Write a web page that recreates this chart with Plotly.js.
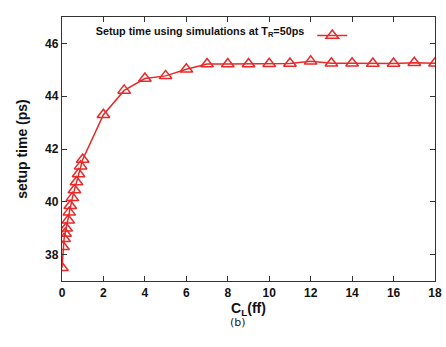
<!DOCTYPE html>
<html><head><meta charset="utf-8">
<script src="https://cdn.plot.ly/plotly-3.0.1.min.js"></script>
<style>html,body{margin:0;padding:0;background:#fff}#c{width:446px;height:347px}</style>
</head><body><div id="c"></div>
<script>
const capLoad = [0, 0.05, 0.1, 0.15, 0.2, 0.3, 0.35, 0.4, 0.5, 0.6, 0.7, 0.8, 0.9, 1, 2, 3, 4, 5, 6, 7, 8, 9, 10, 11, 12, 13, 14, 15, 16, 17, 18];
const setupTime = [37.5, 38.3, 38.6, 38.8, 39.0, 39.3, 39.6, 39.85, 40.15, 40.45, 40.75, 41.05, 41.35, 41.6, 43.3, 44.22, 44.67, 44.77, 45.02, 45.22, 45.22, 45.22, 45.23, 45.24, 45.32, 45.25, 45.25, 45.24, 45.24, 45.27, 45.25];
const xTicks = [0, 2, 4, 6, 8, 10, 12, 14, 16, 18];
const yTicks = [38, 40, 42, 44, 46];
const legendLabel = 'Setup time using simulations at T<sub>R</sub>=50ps';

const red = '#e62a2a';
const fnt = {family: 'Liberation Sans, Arial, sans-serif', size: 12, color: '#111', weight: 'bold'};
const trace = {
  x: capLoad, y: setupTime, type: 'scatter', mode: 'lines+markers', name: ' ',
  line: {color: red, width: 1.5},
  marker: {symbol: 'triangle-up-open', size: 11, color: red, line: {width: 1.5, color: red}}
};
const layout = {
  width: 446, height: 347,
  margin: {l: 62, r: 11, t: 17, b: 66},
  paper_bgcolor: '#fff', plot_bgcolor: '#fff',
  showlegend: true,
  legend: {
    x: 0.085, y: 0.985, xanchor: 'left', yanchor: 'top', bgcolor: 'rgba(0,0,0,0)',
    title: {text: legendLabel, side: 'left', font: {family: fnt.family, size: 10.8, color: '#111', weight: 'bold'}},
    font: {family: fnt.family, size: 11}, itemwidth: 30
  },
  xaxis: {
    range: [0, 18], tickvals: xTicks, ticks: 'inside', ticklen: 5, tickcolor: '#333',
    showline: true, linecolor: '#333', linewidth: 1.2, mirror: 'ticks', showgrid: false, zeroline: false,
    tickfont: fnt,
    title: {text: 'C<sub>L</sub>(ff)', font: {family: fnt.family, size: 14, color: '#111', weight: 'bold'}, standoff: 0}
  },
  yaxis: {
    range: [37, 47], tickvals: yTicks, ticks: 'inside', ticklen: 5, tickcolor: '#333',
    showline: true, linecolor: '#333', linewidth: 1.2, mirror: 'ticks', showgrid: false, zeroline: false,
    tickfont: fnt,
    title: {text: 'setup time (ps)', font: {family: fnt.family, size: 14, color: '#111', weight: 'bold'}, standoff: 14}
  },
  annotations: [{
    text: '(b)', xref: 'paper', yref: 'paper', x: 0.472, y: -0.159, yanchor: 'middle', showarrow: false,
    font: {family: 'DejaVu Sans, sans-serif', size: 11, color: '#222'}
  }]
};
Plotly.newPlot('c', [trace], layout, {displayModeBar: false, staticPlot: true});
</script></body></html>
